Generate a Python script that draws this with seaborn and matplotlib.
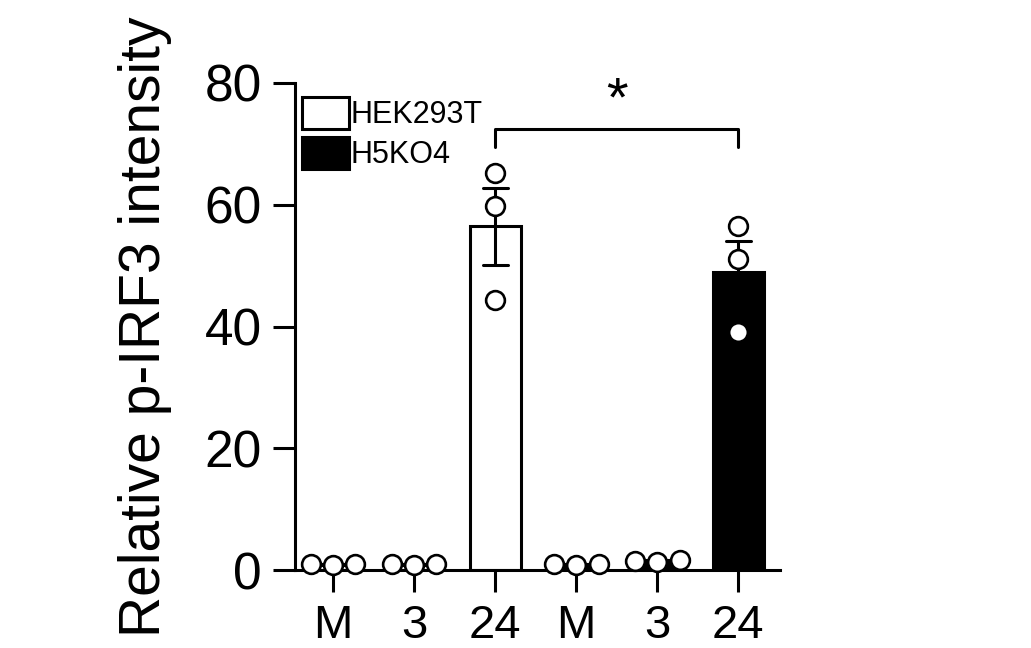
import pandas as pd
import numpy as np
import seaborn as sns
import matplotlib.pyplot as plt
from matplotlib.patches import Patch

# values (3 replicates per condition)
cells = ["HEK293T", "H5KO4"]
times = ["M", "3", "24"]
hek_M = [0.9, 1.0, 1.1]
hek_3 = [0.9, 1.0, 1.1]
hek_24 = [65.2, 59.8, 44.3]
ko_M = [0.9, 1.0, 1.1]
ko_3 = [1.3, 1.5, 1.7]
ko_24 = [56.5, 51.1, 39.1]

rows = []
for cell, series in zip(cells, [[hek_M, hek_3, hek_24], [ko_M, ko_3, ko_24]]):
    for t, vals in zip(times, series):
        for v in vals:
            rows.append({"group": cell + " " + t, "cell": cell, "time": t, "value": v})
data = pd.DataFrame(rows)
order = [c + " " + t for c in cells for t in times]

sns.set_style("ticks")
plt.rcParams["font.family"] = ["Liberation Sans", "DejaVu Sans"]
plt.rcParams.update({"text.color": "black", "axes.labelcolor": "black",
                     "xtick.color": "black", "ytick.color": "black"})

fig = plt.figure(figsize=(10.31, 6.48), dpi=100)
ax = fig.add_axes([0.286, 0.120, 0.471, 0.752])

lw = 2.2
sns.barplot(data=data, x="group", y="value", hue="cell", order=order,
            palette={"HEK293T": "white", "H5KO4": "black"}, dodge=False,
            width=0.63, edgecolor="black", linewidth=lw, errorbar="se",
            capsize=0.31, err_kws={"color": "black", "linewidth": lw},
            legend=False, ax=ax)
sns.swarmplot(data=data, x="group", y="value", order=order, color="white",
              edgecolor="black", linewidth=1.9, size=13.5, ax=ax)
for c in ax.collections:
    c.set_clip_on(False)

ax.set_xlim(-0.47, 5.52)
ax.set_ylim(0, 80)
ax.set_yticks([0, 20, 40, 60, 80])
ax.set_xticks(range(6))
ax.set_xticklabels(times * 2)
ax.set_xlabel("")
ax.set_ylabel("Relative p-IRF3 intensity", fontsize=41, labelpad=23)
ax.tick_params(axis="both", length=16, width=lw, pad=8)
ax.tick_params(axis="y", labelsize=37)
ax.tick_params(axis="x", labelsize=34)
for s in ["left", "bottom"]:
    ax.spines[s].set_linewidth(lw)
    ax.spines[s].set_color("black")
sns.despine(ax=ax)

# significance bracket
ax.plot([2, 2, 5, 5], [69.5, 72.5, 72.5, 69.5], color="black", lw=lw, clip_on=False)
ax.text(3.5, 77.0, "*", ha="center", va="center", fontsize=40)

handles = [Patch(facecolor="white", edgecolor="black", linewidth=lw, label="HEK293T"),
           Patch(facecolor="black", edgecolor="black", linewidth=lw, label="H5KO4")]
ax.legend(handles=handles, loc="upper left", bbox_to_anchor=(302 / 1031, 1 - 97 / 648),
          bbox_transform=fig.transFigure, frameon=False, fontsize=22,
          handlelength=1.55, handleheight=1.25, labelspacing=0.2, handletextpad=0.05,
          borderpad=0, borderaxespad=0)

fig.savefig("out.png", dpi=100)
